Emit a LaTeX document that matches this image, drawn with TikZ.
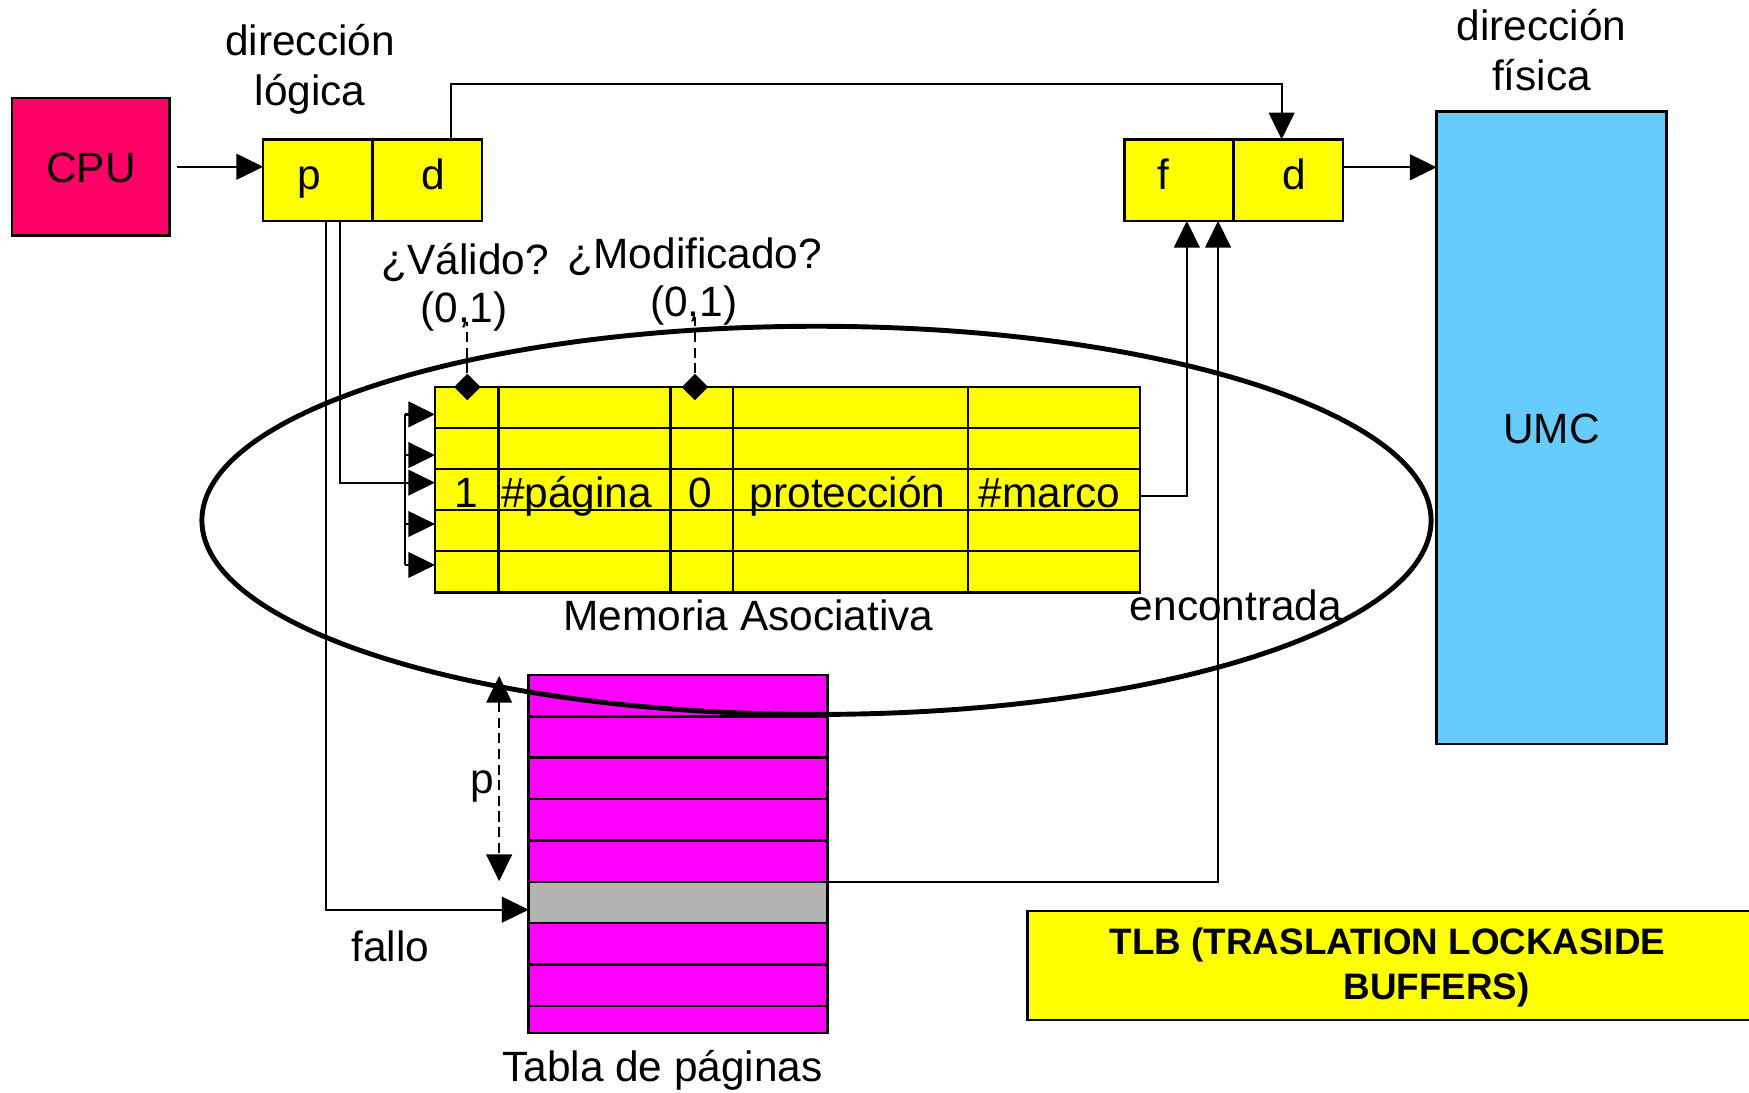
\documentclass[tikz,border=0pt]{standalone}
\usepackage{fontspec}
\setmainfont{Liberation Sans}
\usetikzlibrary{arrows.meta,shapes.geometric}
\definecolor{cpucol}{HTML}{FF0066}
\definecolor{umccol}{HTML}{66CCFF}
\definecolor{ylw}{HTML}{FFFF00}
\definecolor{mag}{HTML}{FF00FF}
\definecolor{gry}{HTML}{B3B3B3}
\begin{document}
\begin{tikzpicture}[x=0.5pt,y=-0.5pt,
  box/.style={draw, line width=1.1pt, inner sep=0pt, outer sep=0pt},
  lbl/.style={inner sep=0pt, font=\fontsize{19}{22}\selectfont, anchor=base},
  blbl/.style={inner sep=0pt, font=\fontsize{16.5}{20}\selectfont\bfseries, anchor=base},
  conn/.style={line width=1pt},
  arr/.style={conn, -{Triangle[length=12pt,width=11.5pt]}},
  dashline/.style={conn, dash pattern=on 4.5pt off 2.5pt},
  dmd/.style={diamond, fill=black, inner sep=0pt, minimum width=12pt, minimum height=12pt},
  ]
\useasboundingbox (0,0) rectangle (1568,979);

% CPU
\node[box, fill=cpucol, minimum width=70.5pt, minimum height=61.5pt] (cpu) at (81.5,149.5) {};
\node[lbl] (cput) at (81.5,164) {CPU};

% logical address
\node[box, fill=ylw, minimum width=49pt, minimum height=36.5pt] (lp) at (285,161.5) {};
\node[box, fill=ylw, minimum width=49pt, minimum height=36.5pt] (ld) at (383,161.5) {};
\node[lbl] (lpt) at (277,170) {p};
\node[lbl] (ldt) at (388,170) {d};
\node[lbl] (dl1) at (278,50) {dirección};
\node[lbl] (dl2) at (278,95) {lógica};

% physical address
\node[box, fill=ylw, minimum width=49pt, minimum height=36.5pt] (pf) at (1057,161.5) {};
\node[box, fill=ylw, minimum width=49pt, minimum height=36.5pt] (pd) at (1155,161.5) {};
\node[lbl] (pft) at (1043,170) {f};
\node[lbl] (pdt) at (1160,170) {d};
\node[lbl] (df1) at (1382,36) {dirección};
\node[lbl] (df2) at (1382,81) {física};

% UMC
\node[box, fill=umccol, minimum width=103pt, minimum height=283.5pt] (umc) at (1391,383.5) {};
\node[lbl] (umct) at (1391,398) {UMC};

% associative memory table
\node[box, fill=ylw, minimum width=316pt, minimum height=92pt] (am) at (706,439) {};
\foreach \y in {383.8,420.6,457.4,494.2} \draw[line width=1.1pt] (390,\y) -- (1022,\y);
\foreach \x in {447,601,657,868} \draw[line width=1.1pt] (\x,347) -- (\x,531);
\node[lbl] (c1) at (418,455) {1};
\node[lbl] (c2) at (517,455) {\#página};
\node[lbl] (c3) at (628,455) {0};
\node[lbl] (c4) at (760,455) {protección};
\node[lbl] (c5) at (941,455) {\#marco};
\node[lbl] (amt) at (671,565) {Memoria Asociativa};

% valid / modified bits
\node[dmd] (vd) at (419,347) {};
\node[dmd] (md) at (623,347) {};
\node[lbl] (vq) at (417,246) {¿Válido?};
\node[lbl] (v01) at (416,289) {(0,1)};
\node[lbl] (mq) at (623,241) {¿Modificado?};
\node[lbl] (m01) at (622,284) {(0,1)};
\draw[dashline] (vd.north) -- (vd.north |- v01.base);
\draw[dashline] (md.north) -- (md.north |- m01.base);

% bracket of comparators
\coordinate (bt) at (363,371.5);
\coordinate (bb) at (363,506.5);
\coordinate (bm) at (363,432.7);
\draw[conn] (bt) -- (bb);
\foreach \y in {371.5,408,432.7,469.8,506.5} \draw[arr] (363,\y) -- (am.west |- 363,\y);

% page table
\node[box, fill=mag, minimum width=134pt, minimum height=160.6pt] (pt) at (608,765.6) {};
\foreach \y in {642.3,679.3,716.4,753.5,864.7,901.7} \draw[line width=1.1pt] (474,\y) -- (742,\y);
\node[box, fill=gry, minimum width=134pt, minimum height=18.55pt] (prow) at (608,809.05) {};
\node[lbl] (ptt) at (594,969.5) {Tabla de páginas};
\coordinate (pa1) at (447.5,606);
\coordinate (pa2) at (447.5,790);
\draw[dashline, {Triangle[length=12pt,width=11.5pt]}-{Triangle[length=12pt,width=11.5pt]}] (pa1) -- (pa2);
\node[lbl] (plbl) at (432,711) {p};

% ellipse (TLB)
\node[draw, ellipse, line width=2.2pt, inner sep=0pt, minimum width=551pt, minimum height=174pt] (tlb) at (732,466.5) {};
\node[lbl] (enc) at (1108,556) {encontrada};
\node[lbl] (fal) at (350,862) {fallo};

% connectors
\draw[arr, shorten <=3.5pt] (cpu.east) -- (cpu.east -| lp.west);
\coordinate (topr) at (1149,75);
\draw[arr] ([xshift=10.5pt]ld.north) |- (topr) -- ([xshift=-3pt]pd.north);
\draw[arr] ([yshift=5.75pt]pd.east) -- ([yshift=5.75pt]pd.east -| umc.west);
\draw[conn] ([xshift=10pt]lp.south) |- (bm);
\draw[arr] ([xshift=3.5pt]lp.south) |- ([yshift=-3.25pt]prow.west);
\draw[arr] ([yshift=-3pt]am.east) -| ([xshift=3.5pt]pf.south);
\draw[arr] (prow.north east) -| ([xshift=17.5pt]pf.south);

% TLB label
\node[box, fill=ylw, minimum width=329.5pt, minimum height=49pt] (tlbbox) at (1250.5,865.5) {};
\node[blbl] (tl1) at (1244,856) {TLB (TRASLATION LOCKASIDE};
\node[blbl] (tl2) at (1288,896.5) {BUFFERS)};
\end{tikzpicture}
\end{document}
